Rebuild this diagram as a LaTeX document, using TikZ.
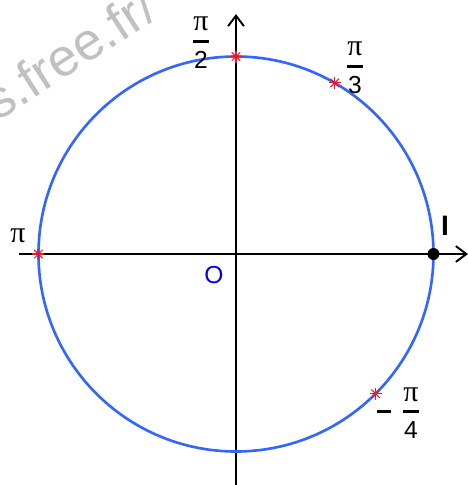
\documentclass[tikz,border=0pt]{standalone}
\usepackage{amsmath}
\usepackage{fontspec}
\setmainfont{Liberation Sans}
\newfontfamily\pifont{Liberation Serif}
\usetikzlibrary{arrows.meta}
\definecolor{cblue}{RGB}{51,102,255}
\definecolor{cred}{RGB}{240,20,40}
\definecolor{olabel}{RGB}{0,0,240}
\definecolor{wmgray}{RGB}{192,192,192}
\newcommand{\bigpi}{\mbox{\pifont\fontsize{17}{17}\selectfont π}}
\newcommand{\fracpi}[1]{$\genfrac{}{}{1.6pt}{0}{\bigpi}{\mbox{#1}}$}

\begin{document}
\begin{tikzpicture}[x=0.02cm, y=0.02cm,
    axe/.style={line width=1.1pt, -{Straight Barb[length=6pt,width=9pt,line width=1.1pt]}},
    cercle/.style={draw=cblue, line width=1.5pt},
    lbl/.style={font=\fontsize{14}{16}\selectfont, inner sep=0pt},
    redstar/.pic={\foreach \a in {0,45,90,135}
      \draw[cred, line width=0.6pt] (\a:6) -- (\a+180:6);}
  ]
  \useasboundingbox (-236,-231) rectangle (232,254);
  % filigrane
  \node[wmgray, rotate=33, anchor=base west, inner sep=0pt,
        font=\fontsize{30}{32}\selectfont] (wm) at (-238,132) {s.free.fr/};
  % axes et cercle
  \coordinate (O) at (0,0);
  \coordinate (xg) at (-217,0);
  \coordinate (xd) at (232,0);
  \coordinate (yb) at (0,-231);
  \coordinate (yh) at (0,240);
  \draw[axe] (xg) -- (xd);
  \draw[axe] (yb) -- (yh);
  \draw[cercle] (O) circle (197.5);
  % points du cercle
  \coordinate (P2) at (90:197.5);
  \coordinate (P3) at (60:197.5);
  \coordinate (Ppi) at (180:197.5);
  \coordinate (P4) at (-45:197.5);
  \coordinate (I) at (0:197.5);
  \foreach \p in {P2,P3,Ppi,P4} \pic at (\p) {redstar};
  \fill (I) circle (6);
  % etiquettes
  \node[lbl] (l2) at (-35,211) {\fracpi{2}};
  \node[lbl] (l3) at (119,186) {\fracpi{3}};
  \node[lbl] (lpi) at (-218,18) {\bigpi};
  \node[lbl] (l4) at (163,-159)
    {\raisebox{0.1cm}{\rule{0.28cm}{0.07cm}}\hspace{0.2cm}\fracpi{4}};
  \node[lbl, olabel] (lO) at (-22,-21) {O};
  \node[lbl, font=\fontsize{16}{18}\selectfont\bfseries] (lI) at (209,28) {I};
\end{tikzpicture}
\end{document}
